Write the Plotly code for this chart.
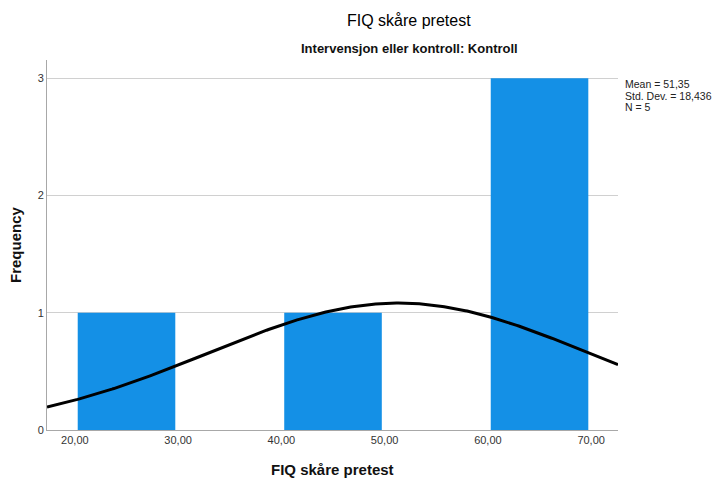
import numpy as np
import plotly.graph_objects as go

# Data
bin_lefts = [20, 30, 40, 50, 60]
bin_width = 10
counts = [1, 0, 1, 0, 3]
mean_val = 51.35
sd_val = 18.436
n_val = 5
x_ticks = [20, 30, 40, 50, 60, 70]
x_tick_labels = ["20,00", "30,00", "40,00", "50,00", "60,00", "70,00"]
y_ticks = [0, 1, 2, 3]

x_range = [17.3, 72.6]
y_range = [0, 3.155]

centers = [b + bin_width / 2 for b in bin_lefts]

# Normal curve fitted to the stated mean/SD, scaled to counts
xc = np.linspace(x_range[0], x_range[1], 300)
yc = n_val * bin_width / (sd_val * np.sqrt(2 * np.pi)) * np.exp(-0.5 * ((xc - mean_val) / sd_val) ** 2)

L, R, T, B = 47, 97, 60, 48
W, H = 715, 478
plot_w = W - L - R
plot_h = H - T - B


def px_x(px):
    return (px - L) / plot_w


def px_y(py):
    return (H - B - py) / plot_h


fig = go.Figure()
fig.add_trace(go.Bar(
    x=centers, y=counts, width=bin_width * 0.945,
    marker=dict(color="rgb(20,144,230)", line=dict(width=0)),
    hoverinfo="skip",
))
fig.add_trace(go.Scatter(
    x=xc, y=yc, mode="lines",
    line=dict(color="black", width=3),
    hoverinfo="skip",
))

fig.update_layout(
    width=W, height=H,
    margin=dict(l=L, r=R, t=T, b=B),
    paper_bgcolor="white", plot_bgcolor="white",
    showlegend=False,
    font=dict(family="Arial, Liberation Sans, sans-serif", color="#222"),
    xaxis=dict(
        range=x_range, tickvals=x_ticks, ticktext=x_tick_labels,
        showgrid=False, zeroline=False, automargin=False,
        showline=True, linecolor="#a8a8a8", linewidth=1,
        ticks="", tickfont=dict(size=11, color="#333"),
    ),
    yaxis=dict(
        range=y_range, tickvals=y_ticks, automargin=False,
        showgrid=True, gridcolor="#d0d0d0", gridwidth=1,
        zeroline=False,
        showline=True, linecolor="#a8a8a8", linewidth=1,
        ticks="", tickfont=dict(size=11, color="#333"),
    ),
)

fig.add_annotation(
    x=px_x(409), y=px_y(21), xref="paper", yref="paper",
    text="FIQ skåre pretest", showarrow=False,
    font=dict(size=16, color="#000"), xanchor="center", yanchor="middle",
)
fig.add_annotation(
    x=px_x(409), y=px_y(48), xref="paper", yref="paper",
    text="<b>Intervensjon eller kontroll: Kontroll</b>", showarrow=False,
    font=dict(size=13, color="#111"), xanchor="center", yanchor="middle",
)
fig.add_annotation(
    x=px_x(332), y=px_y(469), xref="paper", yref="paper",
    text="<b>FIQ skåre pretest</b>", showarrow=False,
    font=dict(size=15, color="#111"), xanchor="center", yanchor="middle",
)
fig.add_annotation(
    x=px_x(15), y=px_y(245), xref="paper", yref="paper",
    text="<b>Frequency</b>", showarrow=False, textangle=-90,
    font=dict(size=15, color="#111"), xanchor="center", yanchor="middle",
)

stat_lines = [
    f"Mean = {str(mean_val).replace('.', ',')}",
    f"Std. Dev. = {str(sd_val).replace('.', ',')}",
    f"N = {n_val}",
]
for i, s in enumerate(stat_lines):
    fig.add_annotation(
        x=px_x(623), y=px_y(84 + 11.5 * i), xref="paper", yref="paper",
        text=s, showarrow=False, align="left",
        font=dict(size=10.5, color="#222"), xanchor="left", yanchor="middle",
    )

fig.write_html("out.html")
